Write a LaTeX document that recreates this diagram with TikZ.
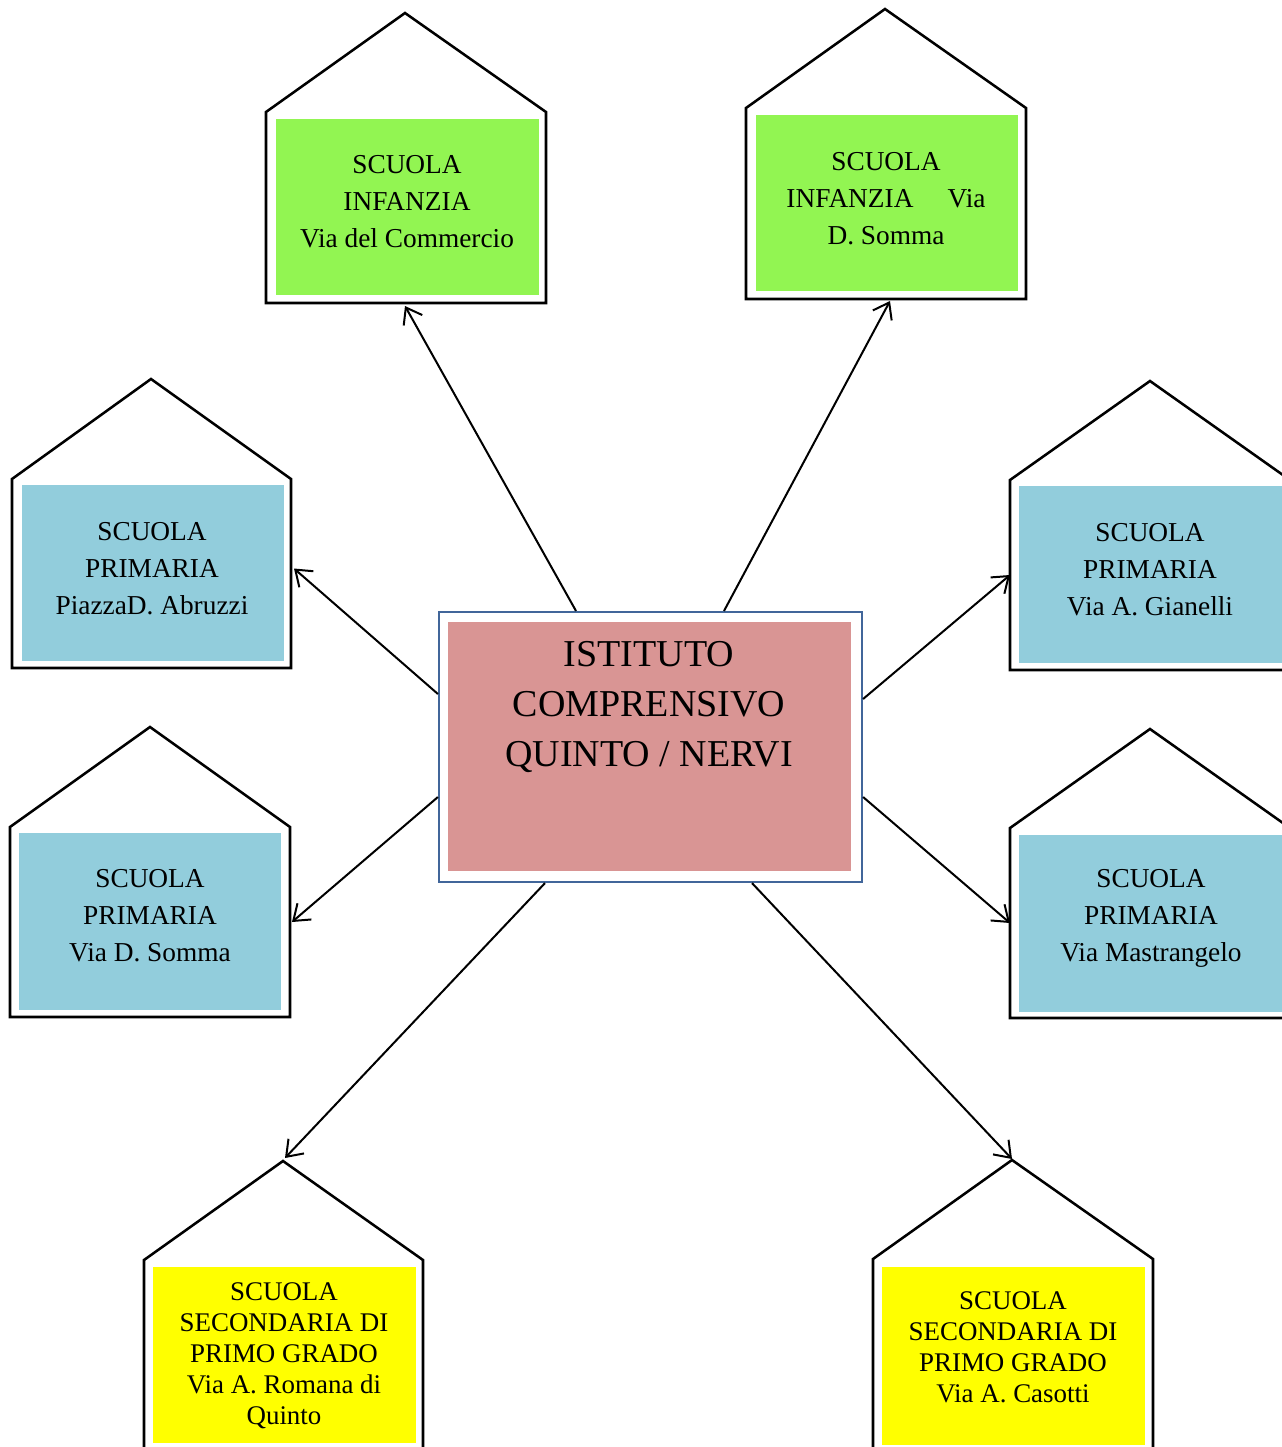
\documentclass[tikz,border=0pt]{standalone}
\usepackage{fontspec}
\setmainfont{Liberation Serif}
\usetikzlibrary{arrows.meta,calc}
\definecolor{pinkfill}{HTML}{D99594}
\definecolor{bordblue}{HTML}{41669A}
\definecolor{greenfill}{HTML}{92F552}
\definecolor{bluefill}{HTML}{92CDDC}
\definecolor{yellowfill}{HTML}{FFFF00}
\tikzset{
  body/.style={draw=none,inner sep=0pt,outer sep=0pt},
  outline/.style={line width=1.9pt,line join=miter},
  fillbox/.style={draw=none,inner sep=0pt,outer sep=0pt},
  housetext/.style={align=center,inner sep=0pt,font=\fontsize{20.5pt}{27.75pt}\selectfont},
  yelltext/.style={align=center,inner sep=0pt,font=\fontsize{20.2pt}{23.25pt}\selectfont},
  bigtext/.style={align=center,inner sep=0pt,font=\fontsize{28.5pt}{37.5pt}\selectfont},
  arr/.style={line width=1.5pt,-{Straight Barb[length=11pt,width=16pt,line width=1.5pt]}}
}
% house: name, L, T, R, B, apexX, apexY
\newcommand{\myhouse}[7]{%
  \node[body,minimum width={(#4-#2)*0.75pt},minimum height={(#5-#3)*0.75pt}] (#1) at ({(#2+#4)/2},{(#3+#5)/2}) {};
  \coordinate (#1apex) at (#6,#7);
  \draw[outline] (#1.south west) -- (#1.north west) -- (#1apex) -- (#1.north east) -- (#1.south east) -- cycle;
}
\newcommand{\myfill}[6]{%
  \node[fillbox,fill=#6,minimum width={(#4-#2)*0.75pt},minimum height={(#5-#3)*0.75pt}] (#1) at ({(#2+#4)/2},{(#3+#5)/2}) {};
}
\begin{document}
\begin{tikzpicture}[x=0.75pt,y=-0.75pt]
\useasboundingbox (0,0) rectangle (1282,1447);
\clip (0,0) rectangle (1282,1447);
\fill[white] (0,0) rectangle (1282,1447);

% houses
\myhouse{b1}{266}{112}{546}{303}{405}{13}
\myhouse{b2}{746}{108}{1026}{299}{885}{9}
\myhouse{b3}{12}{479}{291}{668}{151}{379}
\myhouse{b4}{10}{827}{290}{1017}{150}{727}
\myhouse{b5}{1010}{480}{1290}{670}{1150}{381}
\myhouse{b6}{1010}{828}{1290}{1018}{1150}{729}
\myhouse{b7}{144}{1260}{423}{1470}{283}{1161}
\myhouse{b8}{873}{1259}{1153}{1470}{1012}{1160}

% fills
\myfill{f1}{276}{119}{539}{295}{greenfill}
\myfill{f2}{756}{115}{1018}{291}{greenfill}
\myfill{f3}{22}{485}{284}{661}{bluefill}
\myfill{f4}{19}{833}{281}{1010}{bluefill}
\myfill{f5}{1019}{486}{1284}{663}{bluefill}
\myfill{f6}{1019}{835}{1284}{1012}{bluefill}
\myfill{f7}{153}{1267}{416}{1443}{yellowfill}
\myfill{f8}{882}{1267}{1145}{1445}{yellowfill}

% texts
\node[housetext] (t1) at (407,202) {SCUOLA\\INFANZIA\\Via del Commercio};
\node[housetext] (t2) at (886,199) {SCUOLA\\INFANZIA\hspace*{1em} Via\\D. Somma};
\node[housetext] (t3) at (152,569) {SCUOLA\\PRIMARIA\\PiazzaD. Abruzzi};
\node[housetext] (t4) at (150,916) {SCUOLA\\PRIMARIA\\Via D. Somma};
\node[housetext] (t5) at (1150,570) {SCUOLA\\PRIMARIA\\Via A. Gianelli};
\node[housetext] (t6) at (1151,918) {SCUOLA\\PRIMARIA\\Via Mastrangelo};
\node[yelltext] (t7) at (284,1356) {SCUOLA\\SECONDARIA DI\\PRIMO GRADO\\Via A. Romana di\\Quinto};
\node[yelltext] (t8) at (1013,1347) {SCUOLA\\SECONDARIA DI\\PRIMO GRADO\\Via A. Casotti};

% central box
\node[draw=bordblue,line width=1.6pt,fill=white,inner sep=0pt,minimum width=423*0.75pt,minimum height=270*0.75pt] (ic) at (650.5,747) {};
\node[fillbox,fill=pinkfill,minimum width=403*0.75pt,minimum height=249*0.75pt] (icf) at (649.5,746.5) {};
\node[bigtext] (ict) at (649,707) {ISTITUTO\\COMPRENSIVO\\QUINTO / NERVI};

% arrows
\draw[arr] ($(ic.north)+(-74.5,0)$) -- ($(b1.south)+(-1,3)$);
\draw[arr] ($(ic.north)+(73.5,0)$) -- ($(b2.south)+(4,2)$);
\draw[arr] ($(ic.west)+(0,-53)$) -- ($(b3.east)+(3,-5)$);
\draw[arr] ($(ic.west)+(0,50)$) -- ($(b4.east)+(2,0)$);
\draw[arr] ($(ic.east)+(0,-48)$) -- (b5.west);
\draw[arr] ($(ic.east)+(0,50)$) -- (b6.west);
\draw[arr] ($(ic.south)+(-105.5,0)$) -- ($(b7apex)+(2,-3)$);
\draw[arr] ($(ic.south)+(101.5,0)$) -- ($(b8apex)+(0,-1)$);
\end{tikzpicture}
\end{document}
